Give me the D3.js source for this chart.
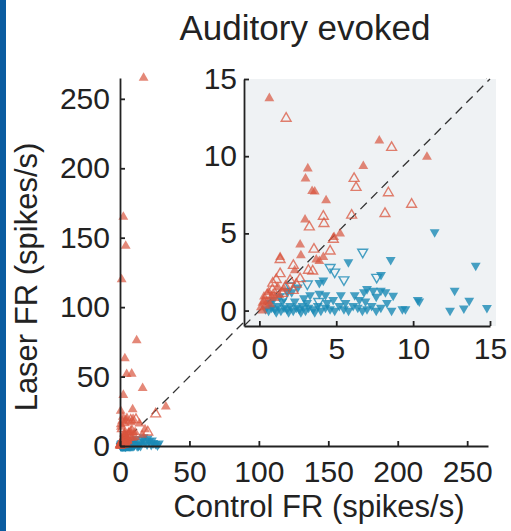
<!DOCTYPE html>
<meta charset="utf-8">
<script src="https://d3js.org/d3.v7.min.js"></script>
<style>
  body { margin: 0; background: #fff; }
  text { font-family: "Liberation Sans", Arial, sans-serif; fill: #222; }
</style>
<div id="my_dataviz"></div>
<script>

// [control FR, laser FR] pairs
var redFilled = [
  [17,265],[2.4,165],[4.1,144],[1.2,120],[12,76],[3.5,63],[4.8,51.7],[8.4,52],
  [16.3,41.6],[2.4,36.7],[9.1,26.4],[0.5,25.2],[33,28.3],
  [0.5,15.5],[3.6,16.3],[1.5,18],[5,20],[2,21],[8,17],[14,16],[18,12],[16,8],[9.4,19.5],[4.3,18.7],
  [0.65,13.75],[7.8,11.0],[10.9,9.95],[6.76,9.35],[3.15,9.2],[3.0,8.55],[3.43,7.73],[3.6,7.7],
  [4.34,7.14],[2.97,5.89],[5.25,4.98],[4.86,4.76],[2.65,4.27],[2.7,3.57],[1.35,3.46],[4.16,3.46],
  [3.9,3.2],[3.7,3.3],[2.3,2.6],[1.2,1.5],[0.6,1.2],[0.3,0.9],[0.2,0.5],[0.5,0.6],[0.8,0.9],
  [1.0,0.8],[0.4,0.3],[0.1,0.2],[0.7,0.4],[0.9,1.1],[1.3,1.0],[0.2,0.0],[1.6,1.4],[0.3,0.6]
];
var redOpen = [
  [25.7,23],[7.7,18.5],[11.5,19],[20,10],
  [1.74,12.45],[8.6,10.56],[6.16,8.55],[6.29,7.97],[8.39,7.62],[9.9,6.88],[8.17,6.28],[6.0,6.17],
  [4.16,6.1],[4.2,5.63],[3.25,5.41],[4.81,4.61],[4.6,3.85],[3.55,3.97],[3.19,2.6],[3.47,2.55],
  [2.21,2.92],[1.35,2.38],[0.87,1.77],[2.65,2.06],[2.0,1.95],[1.7,1.55],[0.85,1.35],[1.35,3.3],
  [2.4,1.7],[1.1,2.0],[0.5,1.0],[1.5,1.1],[2.2,1.3]
];
var blueFilled = [
  [16.5,4.5],[18,2.5],[19.5,1.2],[21,3.5],[22.5,0.8],[24,2.2],[25.5,1.5],[27,0.5],[17,6.5],[20,5.5],[23,4.0],[28,2.0],
  [11.4,5.09],[14.07,2.92],[8.54,3.29],[5.79,3.14],[7.91,2.32],[4.16,1.95],[3.9,1.8],[12.7,1.3],
  [13.65,0.65],[10.4,0.6],[10.3,0.7],[14.8,0.17],[12.4,0.0],[13.3,0.15],[9.3,0.1],[8.7,0.97],[8.3,0.5],
  [5.3,1.0],[6.2,1.0],[6.8,1.2],[7.0,1.4],[7.4,1.3],[7.9,1.3],[8.2,1.2],[7.6,0.9],[4.3,1.0],[3.3,1.0],
  [3.9,1.1],[2.1,1.2],[1.8,1.3],[2.5,1.5],
  [0.4,0.1],[0.6,0.0],[0.8,0.2],[1.0,0.1],[1.2,0.3],[1.4,0.0],[1.6,0.2],[1.8,0.1],[2.0,0.3],[2.2,0.0],
  [2.4,0.2],[2.6,0.1],[2.8,0.3],[3.0,0.0],[3.2,0.2],[3.5,0.1],[3.8,0.3],[4.0,0.0],[4.3,0.2],[4.6,0.1],
  [4.9,0.0],[5.2,0.3],[5.5,0.1],[5.8,0.0],[6.1,0.3],[6.4,0.2],[6.7,0.0],[7.0,0.1],[7.3,0.3],[7.6,0.0],
  [7.9,0.2],[8.6,0.0],[9.5,0.1],[0.7,0.5],[1.5,0.6],[2.3,0.6],[3.1,0.5],[4.4,0.5],[5.6,0.5],[6.9,0.6],
  [1.1,-0.1],[1.9,-0.1],[2.7,-0.1],[3.6,-0.1],[0.9,0.7],[2.9,0.8],[1.3,0.9],[4.8,0.7],[6.5,0.7]
];
var blueOpen = [
  [6.72,3.79],[4.6,2.8],[4.9,2.5],[7.63,2.16],[3.12,1.73],[3.86,0.6],[2.0,1.6],[1.6,0.9],[5.5,2.0]
];

var mainTicks = [0, 50, 100, 150, 200, 250];
var insetTicks = [0, 5, 10, 15];

var red = "#d9563f", blue = "#1a8ab5";

var svg = d3.select("#my_dataviz")
  .append("svg")
    .attr("width", 511)
    .attr("height", 531);

// blue strip on the left edge
svg.append("rect").attr("x", 0).attr("y", 0).attr("width", 6).attr("height", 531).style("fill", "#0b5ca0");

// main scales
var x = d3.scaleLinear().domain([0, 265]).range([120, 488]);
var y = d3.scaleLinear().domain([0, 265]).range([446, 78]);

// inset scales
var xi = d3.scaleLinear().domain([-1, 15]).range([244, 490]);
var yi = d3.scaleLinear().domain([-1, 15]).range([326, 79]);

var up = d3.symbol().type(d3.symbolTriangle).size(42);

function drawPoints(g, sx, sy) {
  function tr(d, flip) {
    return "translate(" + sx(d[0]) + "," + sy(d[1]) + ")" + (flip ? " rotate(180)" : "");
  }
  g.selectAll(null).data(blueFilled).enter().append("path")
    .attr("d", up).attr("transform", function(d) { return tr(d, true); })
    .style("fill", blue).style("fill-opacity", 0.8);
  g.selectAll(null).data(blueOpen).enter().append("path")
    .attr("d", up).attr("transform", function(d) { return tr(d, true); })
    .style("fill", "none").style("stroke", blue).style("stroke-opacity", 0.8).style("stroke-width", 1.4);
  g.selectAll(null).data(redFilled).enter().append("path")
    .attr("d", up).attr("transform", function(d) { return tr(d, false); })
    .style("fill", red).style("fill-opacity", 0.7);
  g.selectAll(null).data(redOpen).enter().append("path")
    .attr("d", up).attr("transform", function(d) { return tr(d, false); })
    .style("fill", "none").style("stroke", red).style("stroke-opacity", 0.75).style("stroke-width", 1.4);
}

function styleAxis(g) {
  g.selectAll("path, line").style("stroke", "#222").style("stroke-width", 1.8);
  g.selectAll("text").style("font-size", "30px").style("fill", "#222")
    .style("font-family", "'Liberation Sans', Arial, sans-serif");
}

// main diagonal
svg.append("line")
  .attr("x1", x(0)).attr("y1", y(0)).attr("x2", x(265)).attr("y2", y(265))
  .style("stroke", "#333").style("stroke-width", 1.3).style("stroke-dasharray", "9,6");

drawPoints(svg.append("g"), x, y);

svg.append("g")
  .attr("transform", "translate(0,446)")
  .call(d3.axisBottom(x).tickValues(mainTicks).tickSizeInner(-5).tickSizeOuter(0).tickPadding(15))
  .call(styleAxis);
svg.append("g")
  .attr("transform", "translate(120,0)")
  .call(d3.axisLeft(y).tickValues(mainTicks).tickSizeInner(-5).tickSizeOuter(0).tickPadding(10))
  .call(styleAxis);

// inset
svg.append("rect")
  .attr("x", 244).attr("y", 79).attr("width", 252).attr("height", 247)
  .style("fill", "#eff2f4");

svg.append("clipPath").attr("id", "insetClip")
  .append("rect").attr("x", 244).attr("y", 75).attr("width", 256).attr("height", 251);

var ins = svg.append("g").attr("clip-path", "url(#insetClip)");
ins.append("line")
  .attr("x1", xi(-1)).attr("y1", yi(-1)).attr("x2", xi(15)).attr("y2", yi(15))
  .style("stroke", "#333").style("stroke-width", 1.3).style("stroke-dasharray", "9,6");
drawPoints(ins, xi, yi);

svg.append("g")
  .attr("transform", "translate(0,326)")
  .call(d3.axisBottom(xi).tickValues(insetTicks).tickSizeInner(-5).tickSizeOuter(0).tickPadding(12))
  .call(styleAxis);
svg.append("g")
  .attr("transform", "translate(244,0)")
  .call(d3.axisLeft(yi).tickValues(insetTicks).tickSizeInner(-5).tickSizeOuter(0).tickPadding(7))
  .call(styleAxis);

// titles
svg.append("text")
  .attr("x", 305).attr("y", 40)
  .attr("text-anchor", "middle")
  .style("font-size", "35px")
  .text("Auditory evoked");

svg.append("text")
  .attr("x", 319).attr("y", 517)
  .attr("text-anchor", "middle")
  .style("font-size", "31px")
  .text("Control FR (spikes/s)");

svg.append("text")
  .attr("transform", "translate(37,277) rotate(-90)")
  .attr("text-anchor", "middle")
  .style("font-size", "31px")
  .text("Laser FR (spikes/s)");

</script>
